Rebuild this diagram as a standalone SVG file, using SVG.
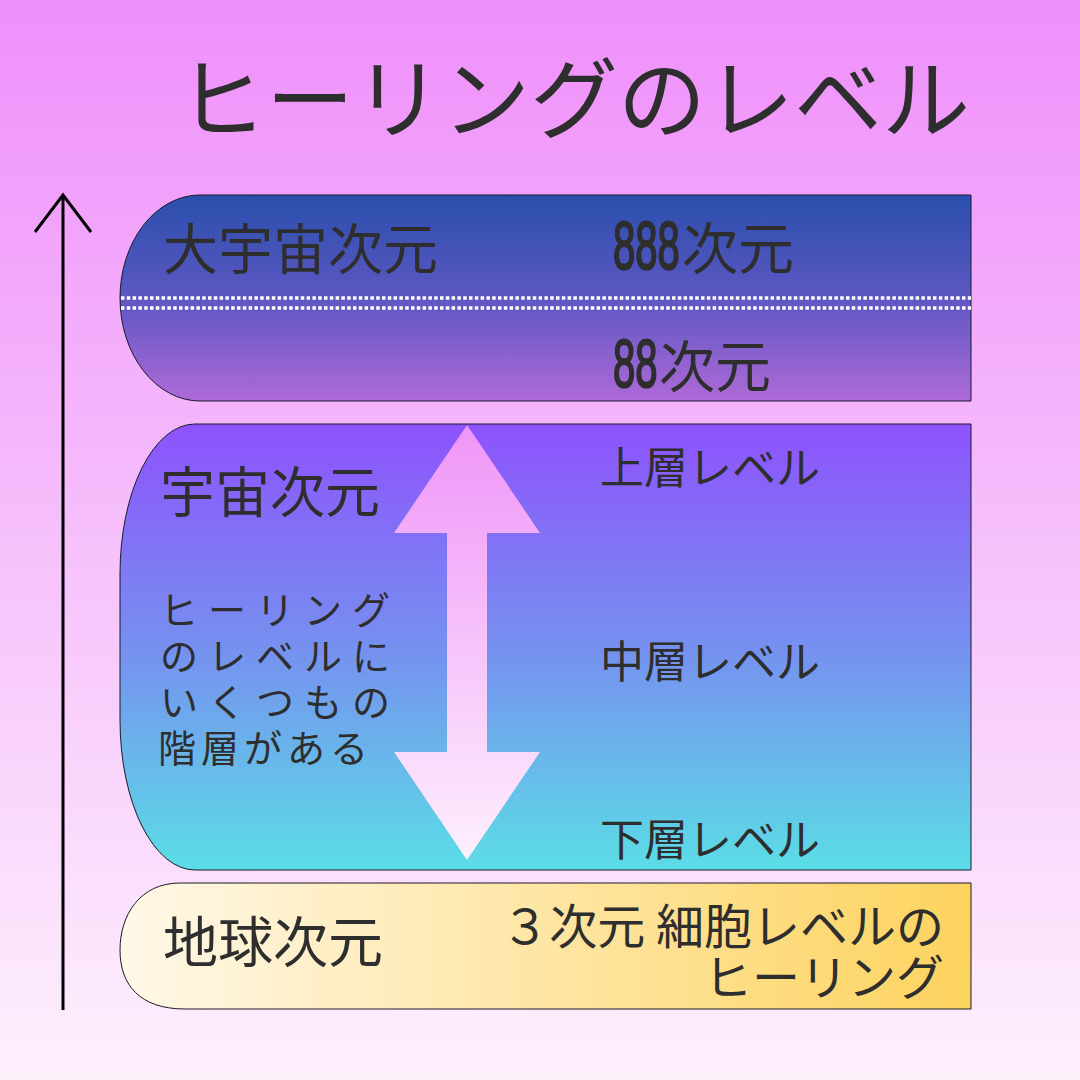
<svg xmlns="http://www.w3.org/2000/svg" width="1080" height="1080" viewBox="0 0 1080 1080">
<defs>
<linearGradient id="bg" x1="0" y1="0" x2="0" y2="1"><stop offset="0" stop-color="#ef8ffb"/><stop offset="1" stop-color="#fdf1fc"/></linearGradient>
<linearGradient id="g1" x1="0" y1="0" x2="0" y2="1"><stop offset="0" stop-color="#2a4fac"/><stop offset="0.5" stop-color="#5d57c2"/><stop offset="1" stop-color="#ae6ad8"/></linearGradient>
<linearGradient id="g2" x1="0" y1="0" x2="0" y2="1"><stop offset="0" stop-color="#8e52fd"/><stop offset="0.5" stop-color="#7690ef"/><stop offset="1" stop-color="#5bdde6"/></linearGradient>
<linearGradient id="g3" x1="0" y1="0" x2="1" y2="0"><stop offset="0" stop-color="#fff8e8"/><stop offset="1" stop-color="#fdd35f"/></linearGradient>
<linearGradient id="ga" x1="0" y1="0" x2="0" y2="1"><stop offset="0" stop-color="#ef95f8"/><stop offset="1" stop-color="#fdf0fd"/></linearGradient>
<style>
.t{font-family:"Noto Sans CJK JP","Noto Sans",sans-serif;fill:#2e2e2e}
.num{font-family:"Liberation Sans",sans-serif;fill:#2e2e2e;stroke:#2e2e2e;stroke-width:2.2}
.box{stroke:#1a1a2a;stroke-width:1}
.dot{stroke:#ffffff;stroke-width:3.5;stroke-dasharray:3.5 2.3;fill:none}
</style>
</defs>
<rect width="1080" height="1080" fill="url(#bg)"/>
<text class="t" x="178" y="131" font-size="88">ヒーリングのレベル</text>

<g id="axis">
<line x1="63" y1="195" x2="63" y2="1010" stroke="#000" stroke-width="3"/>
<polyline points="35,232 63,195 91,232" fill="none" stroke="#000" stroke-width="3"/>
</g>

<g id="top-box">
<path class="box" d="M200,195 H971 V401 H200 A80,103 0 0,1 200,195 Z" fill="url(#g1)"/>
<line class="dot" x1="121" y1="298" x2="971" y2="298"/>
<line class="dot" x1="121" y1="308" x2="971" y2="308"/>
<text class="t" x="163" y="269" font-size="55">大宇宙次元</text>
<text class="num" x="0" y="269" font-size="69" transform="translate(613,0) scale(0.58,1)">888</text>
<text class="t" x="682" y="269" font-size="56">次元</text>
<text class="num" x="0" y="387" font-size="69" transform="translate(613,0) scale(0.58,1)">88</text>
<text class="t" x="659" y="387" font-size="56">次元</text>
</g>

<g id="middle-box">
<path class="box" d="M195,424 H971 V870 H195 A75,150 0 0,1 120,720 V574 A75,150 0 0,1 195,424 Z" fill="url(#g2)"/>
<text class="t" x="160" y="512" font-size="55">宇宙次元</text>
<text class="t" font-size="38" letter-spacing="10">
<tspan x="160" y="624">ヒーリング</tspan>
<tspan x="160" y="670">のレベルに</tspan>
<tspan x="160" y="716">いくつもの</tspan>
<tspan x="158" y="762" letter-spacing="5">階層がある</tspan>
</text>
<text class="t" x="600" y="484" font-size="44">上層レベル</text>
<text class="t" x="600" y="678" font-size="44">中層レベル</text>
<text class="t" x="600" y="856" font-size="44">下層レベル</text>
</g>

<g id="double-arrow">
<polygon points="467,425 540,533 487,533 487,752 540,752 467,860 394,752 447,752 447,533 394,533" fill="url(#ga)"/>
</g>

<g id="bottom-box">
<path class="box" d="M180,883 H971 V1009 H185 C140,1009 120,985 120,950 C120,915 140,883 180,883 Z" fill="url(#g3)"/>
<text class="t" x="163" y="962" font-size="55">地球次元</text>
<text class="t" x="944" y="944" font-size="48" text-anchor="end">３次元 細胞レベルの</text>
<text class="t" x="944" y="995" font-size="48" text-anchor="end">ヒーリング</text>
</g>
</svg>
